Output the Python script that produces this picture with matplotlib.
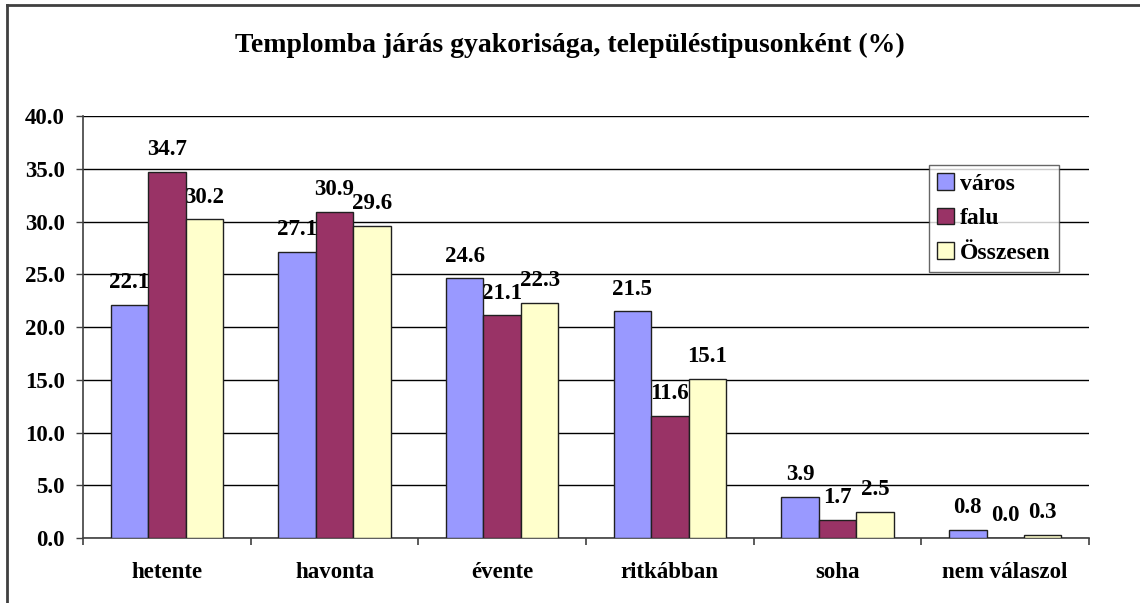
import numpy as np
import matplotlib.pyplot as plt
from matplotlib.lines import Line2D

# -----------------------------
# Data
# -----------------------------
categories = ["hetente", "havonta", "évente", "ritkábban", "soha", "nem válaszol"]
varos = [22.1, 27.1, 24.6, 21.5, 3.9, 0.8]
falu = [34.7, 30.9, 21.1, 11.6, 1.7, 0.0]
osszesen = [30.2, 29.6, 22.3, 15.1, 2.5, 0.3]
series_names = ["város", "falu", "Összesen"]
colors = ["#9999FF", "#993366", "#FFFFCC"]
title = "Templomba járás gyakorisága, településtipusonként (%)"

plt.rcParams['font.family'] = ['Liberation Serif', 'DejaVu Serif']
plt.rcParams['font.weight'] = 'bold'

# -----------------------------
# Figure
# -----------------------------
fig = plt.figure(figsize=(11.4, 6.03), dpi=100)
ax = fig.add_axes([0.0728, 0.1078, 0.8825, 0.6998])

x = np.arange(len(categories))
w = 0.223
for i, (vals, name, col) in enumerate(zip([varos, falu, osszesen], series_names, colors)):
    pos = x + (i - 1) * w
    ax.bar(pos, vals, width=w, color=col, edgecolor="#202020", linewidth=1.0,
           label=name, zorder=3)
    # labels sit under the bars, like in the original chart
    for px, v in zip(pos, vals):
        ax.annotate(f"{v:.1f}", (px, v), xytext=(0, 12), textcoords="offset points",
                    ha="center", va="baseline", fontsize=16.5, fontweight="bold",
                    zorder=2.5)

ax.set_xlim(-0.5, len(categories) - 0.5)
ax.set_ylim(0, 40)
ax.set_yticks(np.arange(0, 40.1, 5))
ax.set_yticklabels([f"{t:.1f}" for t in np.arange(0, 40.1, 5)])
ax.yaxis.grid(True, color="black", linewidth=1.0, zorder=0)
ax.set_axisbelow(True)

# category ticks at group boundaries, labels centered
ax.set_xticks(np.arange(-0.5, len(categories), 1.0))
ax.set_xticklabels([])
ax.set_xticks(x, minor=True)
ax.set_xticklabels(categories, minor=True)
ax.tick_params(axis="x", which="minor", length=0, pad=17, labelsize=16.5)
ax.tick_params(axis="x", which="major", length=5, width=1.2, color="#404040", direction="out")
ax.tick_params(axis="y", length=5, width=1.0, color="#404040", labelsize=16.5, pad=8)

for s in ["top", "right"]:
    ax.spines[s].set_visible(False)
ax.spines["left"].set_color("#404040")
ax.spines["bottom"].set_color("#404040")
ax.spines["left"].set_linewidth(1.2)
ax.spines["bottom"].set_linewidth(1.2)

leg = ax.legend(loc="upper left", bbox_to_anchor=(0.841, 0.884), fontsize=17,
                frameon=True, fancybox=False, edgecolor="#404040", borderaxespad=0,
                handlelength=0.7, handleheight=0.7, handletextpad=0.25,
                labelspacing=0.55, borderpad=0.35)
leg.get_frame().set_linewidth(1.0)

fig.text(0.5, 1 - 45 / 603, title, ha="center", va="center", fontsize=20, fontweight="bold")

# chart frame (top and left edges)
fig.add_artist(Line2D([7 / 1140, 1.0], [1 - 5 / 603, 1 - 5 / 603], transform=fig.transFigure,
                      color="#404040", linewidth=2))
fig.add_artist(Line2D([7 / 1140, 7 / 1140], [0.0, 1 - 5 / 603], transform=fig.transFigure,
                      color="#404040", linewidth=2))

plt.savefig("out.png", dpi=100)
